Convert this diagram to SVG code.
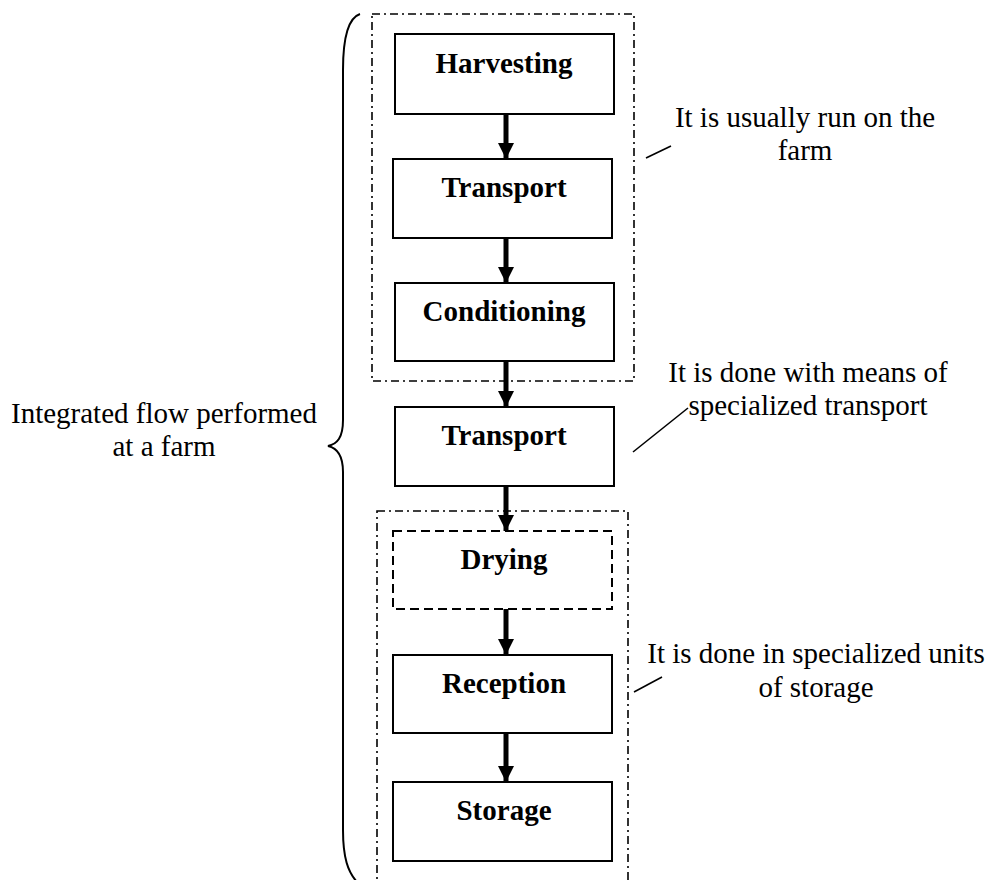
<svg xmlns="http://www.w3.org/2000/svg" width="990" height="880" viewBox="0 0 990 880">
  <defs>
    <style>
      .box { fill: #fff; stroke: #000; stroke-width: 2; }
      .dashed { fill: none; stroke: #000; stroke-width: 2; stroke-dasharray: 9 5; }
      .group { fill: none; stroke: #000; stroke-width: 1.6; stroke-dasharray: 8 4 2 4; }
      .label { font-family: "Liberation Serif", "Times New Roman", serif; font-size: 29px; font-weight: bold; text-anchor: middle; fill: #000; }
      .note { font-family: "Liberation Serif", "Times New Roman", serif; font-size: 29px; text-anchor: middle; fill: #000; }
      .shaft { stroke: #000; stroke-width: 5; fill: none; }
      .leader { stroke: #000; stroke-width: 1.6; fill: none; }
    </style>
    <marker id="head" markerUnits="userSpaceOnUse" markerWidth="16" markerHeight="19" refX="16" refY="8" orient="auto">
      <path d="M0,0 L16,8 L0,16 Z" fill="#000"/>
    </marker>
  </defs>

  <!-- grouping frames -->
  <g id="farm-group">
    <rect class="group" x="372" y="14" width="262" height="367"/>
  </g>
  <g id="storage-group">
    <rect class="group" x="377" y="511" width="251" height="380"/>
  </g>

  <!-- brace spanning the whole flow -->
  <g id="brace">
    <path d="M360,14 C348,18 343,40 343,70 L343,420 C343,438 337,444 328,446 C337,448 343,455 343,472 L343,830 C343,858 348,872 357,882" fill="none" stroke="#000" stroke-width="2"/>
  </g>

  <!-- process steps -->
  <g id="harvesting">
    <rect class="box" x="395" y="34" width="219" height="80"/>
    <text class="label" x="504" y="73">Harvesting</text>
  </g>
  <g id="transport-1">
    <rect class="box" x="393" y="159" width="219" height="79"/>
    <text class="label" x="504" y="197">Transport</text>
  </g>
  <g id="conditioning">
    <rect class="box" x="395" y="283" width="219" height="78"/>
    <text class="label" x="504" y="321">Conditioning</text>
  </g>
  <g id="transport-2">
    <rect class="box" x="395" y="407" width="219" height="79"/>
    <text class="label" x="504" y="445">Transport</text>
  </g>
  <g id="drying">
    <rect class="dashed" x="393" y="531" width="219" height="78"/>
    <text class="label" x="504" y="569">Drying</text>
  </g>
  <g id="reception">
    <rect class="box" x="393" y="655" width="219" height="78"/>
    <text class="label" x="504" y="693">Reception</text>
  </g>
  <g id="storage">
    <rect class="box" x="393" y="782" width="219" height="79"/>
    <text class="label" x="504" y="820">Storage</text>
  </g>

  <!-- flow arrows -->
  <g id="connectors">
    <line class="shaft" x1="506" y1="114" x2="506" y2="159" marker-end="url(#head)"/>
    <line class="shaft" x1="506" y1="238" x2="506" y2="283" marker-end="url(#head)"/>
    <line class="shaft" x1="506" y1="361" x2="506" y2="407" marker-end="url(#head)"/>
    <line class="shaft" x1="506" y1="486" x2="506" y2="531" marker-end="url(#head)"/>
    <line class="shaft" x1="506" y1="609" x2="506" y2="655" marker-end="url(#head)"/>
    <line class="shaft" x1="506" y1="733" x2="506" y2="782" marker-end="url(#head)"/>
  </g>

  <!-- side notes -->
  <g id="note-flow">
    <text class="note" x="164" y="423">Integrated flow performed</text>
    <text class="note" x="164" y="456">at a farm</text>
  </g>
  <g id="note-farm">
    <line class="leader" x1="646" y1="158" x2="671" y2="146"/>
    <text class="note" x="805" y="127">It is usually run on the</text>
    <text class="note" x="805" y="160">farm</text>
  </g>
  <g id="note-transport">
    <line class="leader" x1="633" y1="452" x2="688" y2="408"/>
    <text class="note" x="808" y="382">It is done with means of</text>
    <text class="note" x="808" y="415">specialized transport</text>
  </g>
  <g id="note-storage">
    <line class="leader" x1="634" y1="692" x2="662" y2="677"/>
    <text class="note" x="816" y="663">It is done in specialized units</text>
    <text class="note" x="816" y="697">of storage</text>
  </g>
</svg>
